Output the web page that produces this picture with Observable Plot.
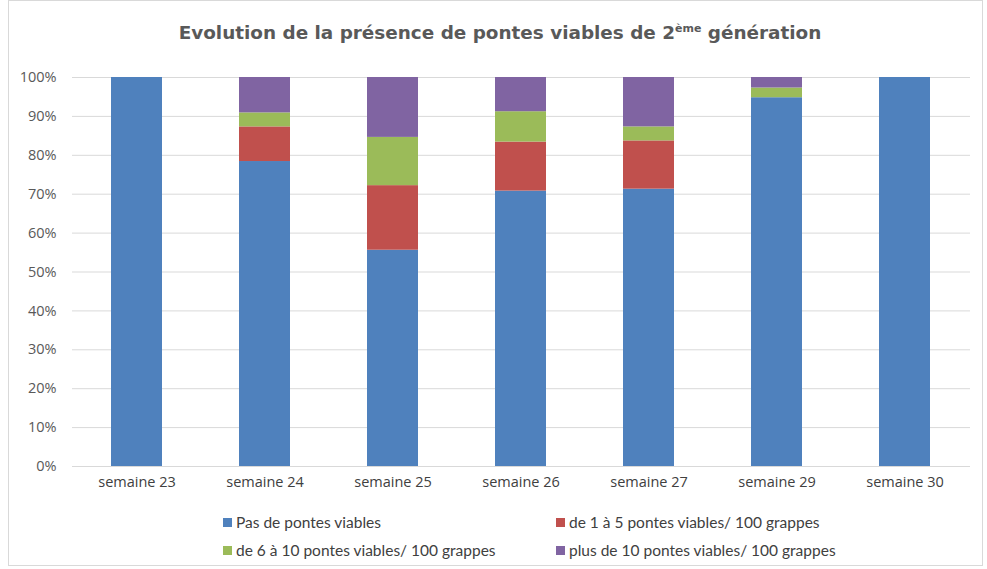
<!DOCTYPE html>
<html>
<head>
<meta charset="utf-8">
<script src="https://cdn.jsdelivr.net/npm/d3@7"></script>
<script src="https://cdn.jsdelivr.net/npm/@observablehq/plot@0.6"></script>
<style>
  body { margin: 0; background: #fff; }
  #wrap { position: relative; width: 987px; height: 569px; overflow: hidden; }
  #frame { position: absolute; left: 8px; top: 0px; width: 975px; height: 566px; border: 1px solid #d9d9d9; box-sizing: border-box; }
  #title { position: absolute; left: 0; width: 1000px; top: 22px; text-align: center; font-family: "DejaVu Sans", sans-serif; font-weight: bold; font-size: 18.4px; color: #595959; }
  #title sup { font-size: 11px; vertical-align: 7px; }
  #chart { position: absolute; left: 0; top: 60px; }
  .leg { position: absolute; font-family: "Lato", "Open Sans", sans-serif; font-size: 15.5px; color: #404040; display: flex; align-items: center; white-space: nowrap; }
  .leg span.sw { display: inline-block; width: 9px; height: 9px; margin-right: 4px; }
</style>
</head>
<body>
<div id="wrap">
  <div id="frame"></div>
  <div id="title">Evolution de la présence de pontes viables de 2<sup>ème</sup> génération</div>
  <div id="chart"></div>
  <div id="legend"></div>
</div>
<script>
const weeks = ["semaine 23", "semaine 24", "semaine 25", "semaine 26", "semaine 27", "semaine 29", "semaine 30"];
const seriesNames = ["Pas de pontes viables", "de 1 à 5 pontes viables/ 100 grappes", "de 6 à 10 pontes viables/ 100 grappes", "plus de 10 pontes viables/ 100 grappes"];
const colors = ["#4F81BD", "#C0504D", "#9BBB59", "#8064A2"];
const pasDePontes = [100, 78.4, 55.6, 70.8, 71.3, 94.8, 100];
const de1a5       = [0, 8.9, 16.6, 12.6, 12.4, 0, 0];
const de6a10      = [0, 3.6, 12.4, 7.8, 3.6, 2.5, 0];
const plusDe10    = [0, 9.1, 15.4, 8.8, 12.7, 2.7, 0];
const yTicks = [0, 0.1, 0.2, 0.3, 0.4, 0.5, 0.6, 0.7, 0.8, 0.9, 1];

const seriesValues = [pasDePontes, de1a5, de6a10, plusDe10];
const data = [];
weeks.forEach((w, i) => {
  seriesNames.forEach((s, j) => {
    data.push({week: w, series: s, value: seriesValues[j][i] / 100});
  });
});

const chart = Plot.plot({
  width: 987,
  height: 440,
  marginTop: 17,
  marginBottom: 34,
  marginLeft: 72,
  marginRight: 17,
  style: {fontFamily: "'Open Sans', sans-serif", fontSize: "14.5px", color: "#595959", background: "transparent"},
  x: {domain: weeks, paddingInner: 0.6, paddingOuter: 0.3, label: null, tickSize: 0, tickPadding: 10},
  y: {domain: [0, 1], ticks: yTicks, tickFormat: d => Math.round(d * 100) + "%", label: null, tickSize: 0, tickPadding: 16},
  color: {domain: seriesNames, range: colors},
  marks: [
    Plot.gridY(yTicks, {stroke: "#d9d9d9", strokeOpacity: 1, strokeWidth: 1}),
    Plot.barY(data, {x: "week", y: "value", fill: "series", order: seriesNames, inset: 0}),
    Plot.axisY({ticks: yTicks, tickFormat: d => Math.round(d * 100) + "%", tickSize: 0, tickPadding: 16, label: null, fill: "#595959"}),
    Plot.axisX({tickSize: 0, tickPadding: 10, label: null, fill: "#404040"})
  ]
});
document.getElementById("chart").appendChild(chart);

const legend = document.getElementById("legend");
const legPos = [[223, 513], [556, 513], [223, 541], [556, 541]];
seriesNames.forEach((s, j) => {
  const d = document.createElement("div");
  d.className = "leg";
  d.style.left = legPos[j][0] + "px";
  d.style.top = legPos[j][1] + "px";
  d.innerHTML = `<span class="sw" style="background:${colors[j]}"></span>${s}`;
  legend.appendChild(d);
});
</script>
</body>
</html>
